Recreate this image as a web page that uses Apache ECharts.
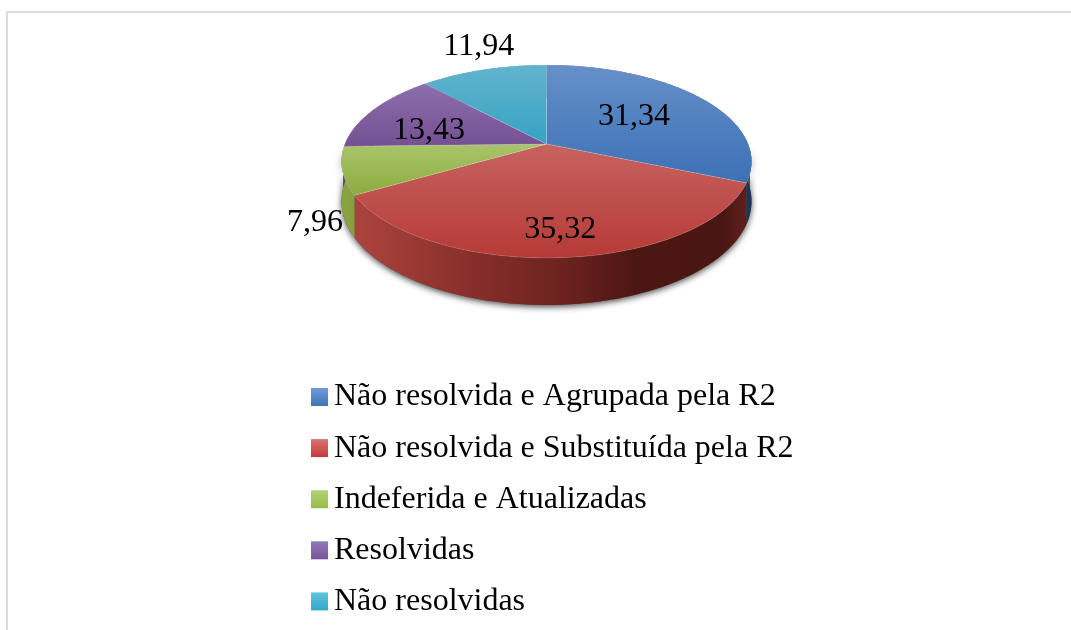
<!DOCTYPE html>
<html><head><meta charset="utf-8">
<style>html,body{margin:0;padding:0;background:#fff}#c{width:1071px;height:630px}</style>
<script src="https://cdn.jsdelivr.net/npm/echarts@6/dist/echarts.min.js"></script>
</head><body><div id="c"></div>
<script>
const categories = ['Não resolvida e Agrupada pela R2','Não resolvida e Substituída pela R2','Indeferida e Atualizadas','Resolvidas','Não resolvidas'];
const values = [31.34,35.32,7.96,13.43,11.94];
const valueLabels = ['31,34','35,32','7,96','13,43','11,94'];
const topColors = [['#6690c9','#3c70b5'],['#c76360','#b63a36'],['#a9c56b','#8dab3e'],['#8d6fac','#745092'],['#62b4ce','#36a2c3']];
const legendColors = [['#6f9bd5','#3f75ba'],['#de716d','#c13c39'],['#b3d279','#98bb46'],['#9078b6','#7a569f'],['#5fc3dd','#33a8cb']];
const sideStops = [
  [[0,'#2a4a74'],[1,'#1a3557']],
  [[0,'#b0463f'],[0.3,'#8a2f2b'],[0.55,'#6b211e'],[0.72,'#4b1613'],[0.93,'#4a1613'],[1,'#642320']],
  [[0,'#8ba543'],[0.1,'#7b9438'],[1,'#5f7a28']],
  [[0,'#5f4278'],[1,'#4a3060']],
  [[0,'#2f8aa5'],[1,'#257088']]
];
// pie geometry (perspective projection of a flat disc)
const CX = 546.5, CY = 144, RX = 201.6, RY = 93.3, K = 0.1813, DEPTH = 38.5;
const labelRadius = [0.55, 0.62, 1.0, 0.62, 1.35];
const labelShift = [[0,-1],[5,21],[-27.5,52],[-7,8],[13.5,-2]];
const total = values.reduce((a,b)=>a+b,0);
function project(theta, r, drop){
  const s = Math.sin(theta)*r, c = Math.cos(theta)*r, d = 1 + K*c;
  return [CX + RX*s/d, CY - RY*c/d + (drop||0)/d];
}
function arc(a0, a1, r, drop){
  const n = Math.max(2, Math.ceil((a1-a0)/(Math.PI/180))), pts = [];
  for(let i=0;i<=n;i++) pts.push(project(a0+(a1-a0)*i/n, r, drop));
  return pts;
}
function grad(x0,y0,x1,y1,stops,global){
  return new echarts.graphic.LinearGradient(x0,y0,x1,y1,stops.map(s=>({offset:s[0],color:s[1]})),!!global);
}
function sliceItem(i){
  const before = values.slice(0,i).reduce((a,b)=>a+b,0);
  return function(params, api){
    const v = api.value(0);
    const a0 = before/total*Math.PI*2, a1 = (before+v)/total*Math.PI*2;
    const rim = arc(a0,a1,1,0), low = arc(a0,a1,1,DEPTH).reverse();
    const sidePts = rim.concat(low);
    const topPts = [project(0,0)].concat(rim);
    const mid = (a0+a1)/2, lp = project(mid,labelRadius[i]);
    const children = [];
    // soft shadow only along the near half of the rim
    const s0 = Math.max(a0, Math.PI*0.52), s1 = Math.min(a1, Math.PI*1.48);
    if (s1 > s0) {
      children.push({type:'polygon',z2:1,shape:{points:arc(s0,s1,1,0).concat(arc(s0,s1,1,DEPTH).reverse())},
        style:{fill:'#555',shadowBlur:6,shadowColor:'rgba(0,0,0,0.7)',shadowOffsetY:2}});
    }
    children.push(
      {type:'polygon',z2:2,shape:{points:sidePts},style:{fill:grad(341,0,752,0,sideStops[i],true)}},
      {type:'polygon',z2:3,shape:{points:topPts},style:{fill:grad(0,0,0,1,topColors[i].map((c,j)=>[j,c])),stroke:'rgba(255,255,255,0.18)',lineWidth:0.8}},
      {type:'text',z2:4,style:{text:valueLabels[i],x:lp[0]+labelShift[i][0],y:lp[1]+labelShift[i][1],align:'center',verticalAlign:'middle',font:'32px "Liberation Serif"',fill:'#000'}}
    );
    return {type:'group',children};
  };
}
const chart = echarts.init(document.getElementById('c'),null,{renderer:'canvas'});
chart.setOption({
  animation:false,
  backgroundColor:'#fff',
  legend:{
    orient:'vertical',left:306,top:376,icon:'rect',itemWidth:17,itemHeight:18,itemGap:19.1,selectedMode:false,
    data:categories,
    textStyle:{fontFamily:'Liberation Serif',fontSize:32,color:'#000',lineHeight:32,padding:[0,0,0,1]}
  },
  graphic:[
    {type:'rect',silent:true,shape:{x:6,y:11,width:2,height:619},style:{fill:'#dcdcdc'}},
    {type:'rect',silent:true,shape:{x:6,y:11,width:1065,height:2},style:{fill:'#dcdcdc'}}
  ],
  series:categories.map((name,i)=>({
    type:'custom',name,coordinateSystem:'none',
    data:[[values[i]]],
    itemStyle:{color:grad(0,0,0,1,legendColors[i].map((c,j)=>[j,c]))},
    renderItem:sliceItem(i)
  }))
});
</script></body></html>
